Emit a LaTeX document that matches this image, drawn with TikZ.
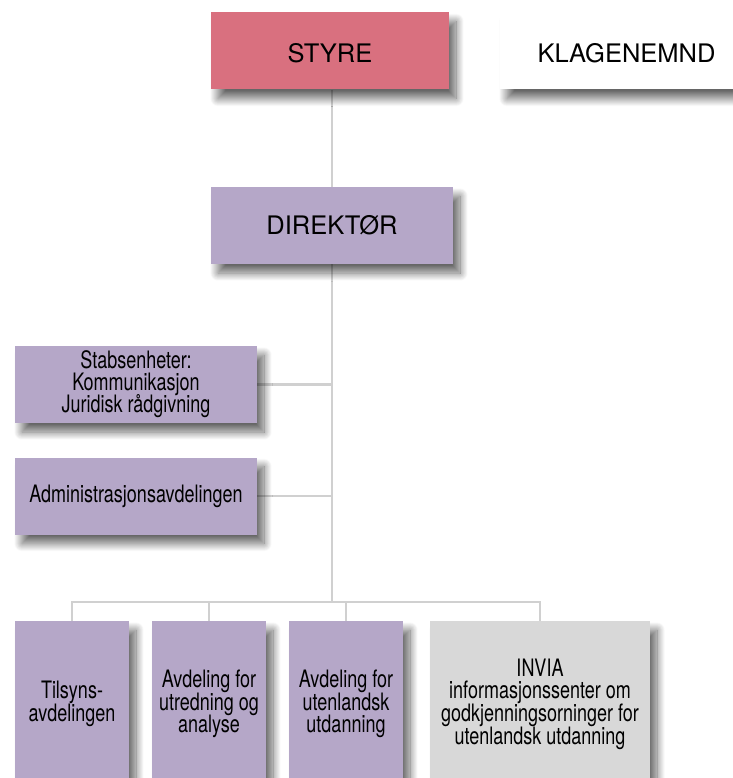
\documentclass[tikz,border=0pt]{standalone}
\usepackage{fontspec}
\setmainfont{TeX Gyre Heros}
\newfontfamily\condfont[FakeStretch=0.75]{TeX Gyre Heros}
\usepackage{tikz}
\usetikzlibrary{shadows.blur,backgrounds,calc}

\definecolor{boardred}{HTML}{D9707F}
\definecolor{unitviolet}{HTML}{B5A7C8}
\definecolor{inviagray}{HTML}{D8D8D8}
\definecolor{linkgray}{HTML}{D0D0D0}

\newcommand\tightlines{\lineskiplimit=-20pt\relax}

\tikzset{
  unit/.style={inner sep=0pt, align=center, text=black,
    blur shadow={shadow xshift=7pt, shadow yshift=-9pt, shadow blur radius=8pt, shadow opacity=60, shadow blur steps=16}},
  topbox/.style={unit, minimum height=77pt, font=\fontsize{25.5}{30}\selectfont},
  staffbox/.style={unit, minimum width=242pt, minimum height=77pt, fill=unitviolet, font=\condfont\fontsize{24}{22}\selectfont\tightlines},
  deptbox/.style={unit, minimum width=114pt, minimum height=166pt, fill=unitviolet, font=\condfont\fontsize{24}{22.6}\selectfont\tightlines},
  link/.style={linkgray, line width=2.5pt}
}

\begin{document}
\begin{tikzpicture}[x=1pt, y=-1pt]
\useasboundingbox (0,0) rectangle (732,778);

% Board and director
\node[topbox, fill=boardred, minimum width=238pt, text height=24pt, text depth=0pt] (styre) at (330,51) {STYRE};
\node[topbox, fill=white, minimum width=253pt, text height=24pt, text depth=0pt] (klage) at (626.5,51) {KLAGENEMND};
\node[topbox, fill=unitviolet, minimum width=242pt] (direktor) at (332,225.5) {DIREKTØR};

% Staff units
\node[staffbox] (stab) at (136,384.5) {Stabsenheter:\\Kommunikasjon\\Juridisk rådgivning};
\node[staffbox] (admin) at (136,496) {Administrasjonsavdelingen};

% Departments
\node[deptbox] (tilsyn) at (72,704) {Tilsyns-\\avdelingen};
\node[deptbox] (utredning) at (209,704) {Avdeling for\\utredning og\\analyse};
\node[deptbox] (utland) at (346,704) {Avdeling for\\utenlandsk\\utdanning};
\node[deptbox, fill=inviagray, minimum width=220pt] (invia) at (540,704) {INVIA\\informasjonssenter om\\godkjenningsorninger for\\utenlandsk utdanning};

% Connectors
\coordinate (split) at (332,602);
\begin{scope}[on background layer]
\draw[link] (styre.south -| split) -- (split);
\draw[link] (stab.east) -- (stab.east -| split);
\draw[link] (admin.east) -- (admin.east -| split);
\draw[link] (tilsyn.north) |- (split) -| (invia.north);
\draw[link] (utredning.north) -- (utredning.north |- split);
\draw[link] (utland.north) -- (utland.north |- split);
\end{scope}

\end{tikzpicture}
\end{document}
